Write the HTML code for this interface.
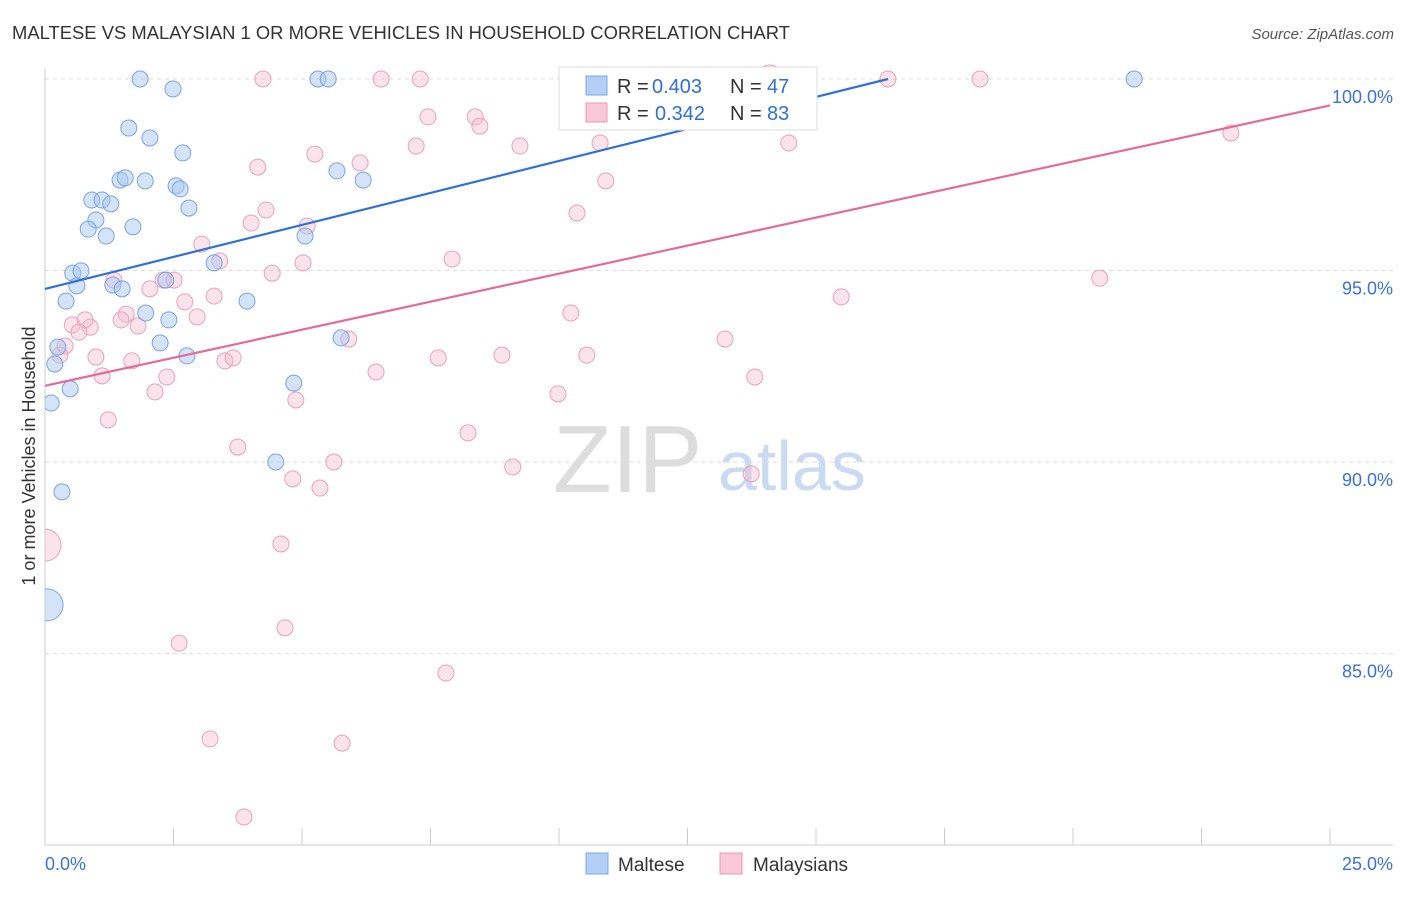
<!DOCTYPE html>
<html><head><meta charset="utf-8"><style>
body{margin:0;background:#fff;font-family:"Liberation Sans",sans-serif;}
svg text{font-family:"Liberation Sans",sans-serif;}
</style></head><body>
<svg id="c" width="1406" height="892" xmlns="http://www.w3.org/2000/svg">
<defs><clipPath id="plot"><rect x="45" y="60" width="1360" height="785"/></clipPath></defs>
<text x="12" y="39" font-size="18.4" fill="#333" textLength="778">MALTESE VS MALAYSIAN 1 OR MORE VEHICLES IN HOUSEHOLD CORRELATION CHART</text>
<text x="1394" y="39" font-size="15" fill="#555" text-anchor="end" font-style="italic">Source: ZipAtlas.com</text>
<text x="35" y="456" font-size="18" fill="#333" text-anchor="middle" transform="rotate(-90 35 456)">1 or more Vehicles in Household</text>
<g><text x="553" y="492" font-size="96" fill="#ddd" font-family="Liberation Serif,serif">ZIP</text><text x="718" y="490" font-size="70" fill="#c9daf2">atlas</text></g>
<g id="grid"></g><g id="axes"></g><g id="pts" clip-path="url(#plot)"></g><g id="lines"></g>
<g>
<rect x="559" y="67" width="258" height="63" fill="#fff" stroke="#ddd"/>
<rect x="586" y="76" width="21" height="19" fill="#b3cff5" stroke="#7aa7e6"/>
<text x="617" y="93" font-size="20" fill="#333">R =</text><text x="652" y="93" font-size="20" fill="#2f6fd6">0.403</text>
<text x="730" y="93" font-size="20" fill="#333">N =</text><text x="767" y="93" font-size="20" fill="#2f6fd6">47</text>
<rect x="586" y="103" width="21" height="19" fill="#f9c7d7" stroke="#ec9ab7"/>
<text x="617" y="120" font-size="20" fill="#333">R =</text><text x="655" y="120" font-size="20" fill="#2f6fd6">0.342</text>
<text x="730" y="120" font-size="20" fill="#333">N =</text><text x="767" y="120" font-size="20" fill="#2f6fd6">83</text>
</g>
<g>
<rect x="586" y="853" width="22" height="21" fill="#b3cff5" stroke="#7aa7e6"/>
<text x="618" y="871" font-size="19" fill="#333">Maltese</text>
<rect x="720" y="853" width="22" height="21" fill="#f9c7d7" stroke="#ec9ab7"/>
<text x="753" y="871" font-size="19" fill="#333">Malaysians</text>
</g>
</svg>
<script>
const yTicks=[100,95,90,85];
const xTickLabels=["0.0%","25.0%"];
const blueX=[1.85,2.49,5.31,5.51,21.19,1.63,2.04,2.68,5.68,6.19,1.46,1.56,1.95,2.55,2.63,0.91,1.11,1.28,2.80,0.99,0.84,1.71,1.19,5.06,0.54,0.70,3.29,0.62,1.32,1.50,2.35,0.41,3.93,1.96,2.41,2.24,2.76,5.76,0.25,0.19,0.49,0.12,4.84,4.49,0.33,0.04];
const blueY=[100,99.74,100,100,100,98.72,98.46,98.07,97.60,97.36,97.36,97.42,97.34,97.21,97.13,96.84,96.84,96.74,96.63,96.32,96.08,96.14,95.90,95.90,94.93,94.99,95.20,94.60,94.62,94.52,94.75,94.20,94.20,93.89,93.71,93.11,92.77,93.24,93.00,92.56,91.91,91.54,92.06,90.00,89.22,86.27];
const blueR=[8,8,8,8,8,8,8,8,8,8,8,8,8,8,8,8,8,8,8,8,8,8,8,8,8,8,8,8,8,8,8,8,8,8,8,8,8,8,8,8,8,8,8,8,8,16];
const pinkX=[4.24,6.54,7.30,16.40,18.19,7.45,8.37,8.46,7.22,9.24,10.80,14.47,23.07,5.25,4.14,6.13,10.91,4.30,4.01,5.10,10.35,3.05,3.40,4.42,5.02,7.92,20.52,15.49,1.34,2.04,2.51,2.30,2.72,3.29,2.96,1.58,1.48,1.81,0.53,0.88,0.78,0.66,0.39,0.29,0.99,1.69,3.50,3.66,5.91,7.65,8.89,10.54,10.23,13.23,1.11,2.37,6.44,13.81,2.14,9.98,4.88,1.23,3.75,8.23,5.62,9.10,13.74,4.82,5.35,4.59,0,4.67,2.61,7.80,3.21,5.78,3.87,14.10];
const pinkY=[100,100,100,100,100,99.01,99.01,98.77,98.25,98.25,98.33,98.33,98.59,98.04,97.70,97.81,97.34,96.58,96.24,96.16,96.50,95.69,95.25,94.93,95.20,95.30,94.80,94.31,94.75,94.52,94.75,94.75,94.18,94.33,93.79,93.86,93.71,93.55,93.58,93.52,93.71,93.39,93.03,92.79,92.74,92.64,92.64,92.72,93.21,92.72,92.79,92.79,93.89,93.21,92.25,92.22,92.35,92.22,91.83,91.78,91.62,91.10,90.39,90.76,90.00,89.87,89.69,89.56,89.32,87.86,87.83,85.67,85.27,84.49,82.77,82.66,80.73,100];
const pinkR=pinkX.map((v,i)=>(i===70?16:(i===77?14:8)));
const blueLine=[0,94.52,16.40,100];
const pinkLine=[0,91.99,25,99.31];
const NS="http://www.w3.org/2000/svg";
const sx=v=>45+v/25*1285, sy=v=>79+(100-v)*38.3;
function mk(t,a,p){const e=document.createElementNS(NS,t);for(const k in a)e.setAttribute(k,a[k]);document.getElementById(p).appendChild(e);return e;}
yTicks.forEach(t=>{
 const l=mk('line',{x1:45,x2:1393,y1:sy(t),y2:sy(t),stroke:'#ddd','stroke-dasharray':'4 4'},'grid');
 
 
 const tx=mk('text',{x:1393,y:sy(t)+24,'font-size':18,fill:'#3a72d8','text-anchor':'end'},'grid');
 tx.textContent=t.toFixed(1)+'%';
 
 
});
const ax=mk('line',{x1:45,x2:1393,y1:845,y2:845,stroke:'#ccc'},'axes');


const ay=mk('line',{x1:45,x2:45,y1:68,y2:845,stroke:'#ccc'},'axes');


for(let i=0;i<=10;i++){const t=mk('line',{x1:sx(i*2.5),x2:sx(i*2.5),y1:828,y2:845,stroke:'#ccc'},'axes');
 
 }
[[0,'start',45],[25,'end',1393]].forEach((d,i)=>{const t=mk('text',{x:d[2],y:870,'font-size':18,fill:'#3a72d8','text-anchor':d[1]},'axes');t.textContent=xTickLabels[i];
 
 });
pinkX.forEach((x,i)=>{const c=mk('circle',{cx:sx(x),cy:sy(pinkY[i]),r:pinkR[i],fill:'#f6b8cd','fill-opacity':0.4,stroke:'#eba0bb','stroke-width':1},'pts');
 
 });
blueX.forEach((x,i)=>{const c=mk('circle',{cx:sx(x),cy:sy(blueY[i]),r:blueR[i],fill:'#a9c7f0','fill-opacity':0.5,stroke:'#78a4e2','stroke-width':1},'pts');
 
 });
const bl=mk('line',{x1:sx(blueLine[0]),y1:sy(blueLine[1]),x2:sx(blueLine[2]),y2:sy(blueLine[3]),stroke:'#2f72d6','stroke-width':2.2},'lines');


const pl=mk('line',{x1:sx(pinkLine[0]),y1:sy(pinkLine[1]),x2:sx(pinkLine[2]),y2:sy(pinkLine[3]),stroke:'#e56a98','stroke-width':2.2},'lines');


</script>
</body></html>
